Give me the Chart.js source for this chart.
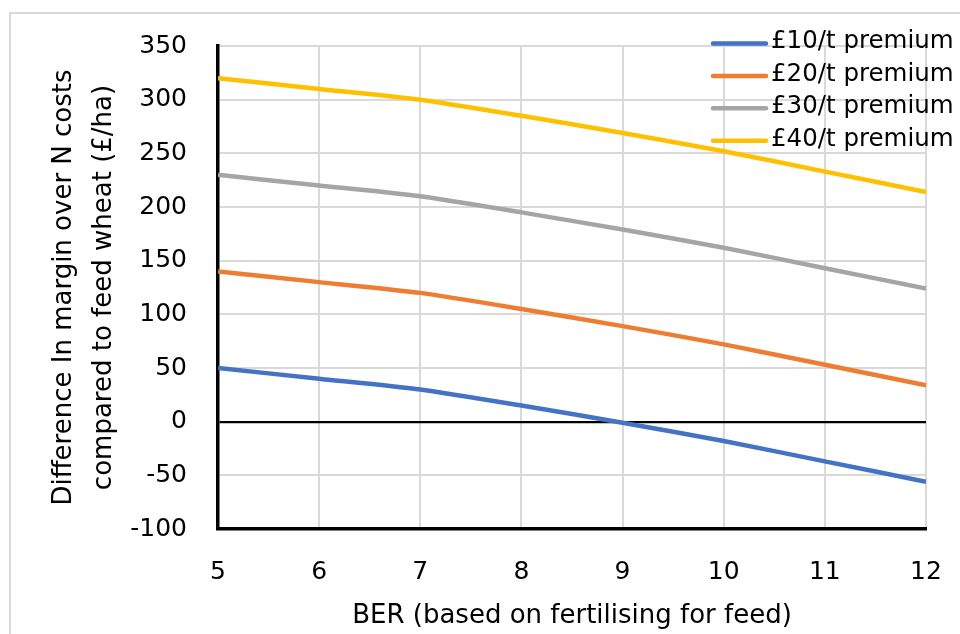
<!DOCTYPE html>
<html>
<head>
<meta charset="utf-8">
<script src="https://cdn.jsdelivr.net/npm/chart.js@4/dist/chart.umd.min.js"></script>
<style>
  html, body { margin: 0; padding: 0; background: #fff; }
  #wrap { position: relative; width: 960px; height: 634px; }
</style>
</head>
<body>
<div id="wrap"><canvas id="c" width="960" height="634"></canvas></div>
<script>
// ---- data ----
const berValues = [5, 6, 7, 8, 9, 10, 11, 12];
const premium10 = [50, 40, 30, 15, -1, -18, -37, -56];
const premium20 = [140, 130, 120, 105, 89, 72, 53, 34];
const premium30 = [230, 220, 210, 195, 179, 162, 143, 124];
const premium40 = [320, 310, 300, 285, 269, 252, 233, 214];
const seriesLabels = ['£10/t premium', '£20/t premium', '£30/t premium', '£40/t premium'];
const seriesColors = ['#4472C4', '#ED7D31', '#A5A5A5', '#FFC000'];
const yTitle = ['Difference In margin over N costs', 'compared to feed wheat (£/ha)'];
const xTitle = 'BER (based on fertilising for feed)';

const FONT = "'DejaVu Sans', sans-serif";

const seriesValues = [premium10, premium20, premium30, premium40];
const datasets = seriesValues.map((vals, i) => ({
  label: seriesLabels[i],
  data: berValues.map((x, j) => ({ x: x, y: vals[j] })),
  borderColor: seriesColors[i],
  backgroundColor: seriesColors[i],
  borderWidth: 4.5,
  pointRadius: 0,
  tension: 0.2,
  fill: false,
  borderCapStyle: 'butt',
  borderJoinStyle: 'round'
}));

const framePlugin = {
  id: 'frame',
  beforeDraw(chart) {
    const ctx = chart.ctx;
    ctx.save();
    ctx.strokeStyle = '#d9d9d9';
    ctx.lineWidth = 2;
    ctx.strokeRect(10, 13, 1200, 1200);
    ctx.restore();
  }
};

const legendPlugin = {
  id: 'customLegend',
  afterDatasetsDraw(chart) {
    const ctx = chart.ctx;
    ctx.save();
    const x0 = 713, x1 = 766, tx = 771;
    chart.data.datasets.forEach((ds, i) => {
      const y = 43.5 + i * 32.4;
      ctx.strokeStyle = ds.borderColor;
      ctx.lineWidth = 4.5;
      ctx.lineCap = 'round';
      ctx.beginPath();
      ctx.moveTo(x0, y);
      ctx.lineTo(x1, y);
      ctx.stroke();
      ctx.fillStyle = '#000';
      ctx.font = "24.5px " + FONT;
      ctx.textBaseline = 'middle';
      ctx.textAlign = 'left';
      ctx.fillText(ds.label, tx, y - 1.5);
    });
    ctx.restore();
  }
};

new Chart(document.getElementById('c'), {
  type: 'line',
  data: { datasets: datasets },
  plugins: [framePlugin, legendPlugin],
  options: {
    responsive: false,
    animation: false,
    layout: { padding: { left: 0, top: 46, right: 34, bottom: 0 } },
    plugins: {
      legend: { display: false },
      tooltip: { enabled: false }
    },
    scales: {
      x: {
        type: 'linear',
        min: 5,
        max: 12,
        ticks: {
          stepSize: 1,
          padding: 28,
          color: '#000',
          font: { family: FONT, size: 25 }
        },
        grid: { color: '#d9d9d9', lineWidth: 2, drawTicks: false },
        border: { color: '#000', width: 3.5 },
        title: {
          display: true,
          text: xTitle,
          color: '#000',
          font: { family: FONT, size: 26 },
          padding: { top: 0, bottom: 2 }
        },
        afterFit(scale) {
          scale.height = 105;
          scale.paddingLeft = 0;
          scale.paddingRight = 0;
        }
      },
      y: {
        type: 'linear',
        min: -100,
        max: 350,
        ticks: {
          stepSize: 50,
          padding: 31,
          color: '#000',
          font: { family: FONT, size: 25 }
        },
        grid: {
          drawTicks: false,
          color: (c) => (c.tick && c.tick.value === 0 ? '#000' : '#d9d9d9'),
          lineWidth: (c) => (c.tick && c.tick.value === 0 ? 2.2 : 2)
        },
        border: { color: '#000', width: 3.5 },
        title: {
          display: true,
          text: yTitle,
          color: '#000',
          font: { family: FONT, size: 26, lineHeight: 40 / 26 },
          padding: { top: 44, bottom: 0 }
        },
        afterFit(scale) { scale.width = 218; }
      }
    }
  }
});
</script>
</body>
</html>
